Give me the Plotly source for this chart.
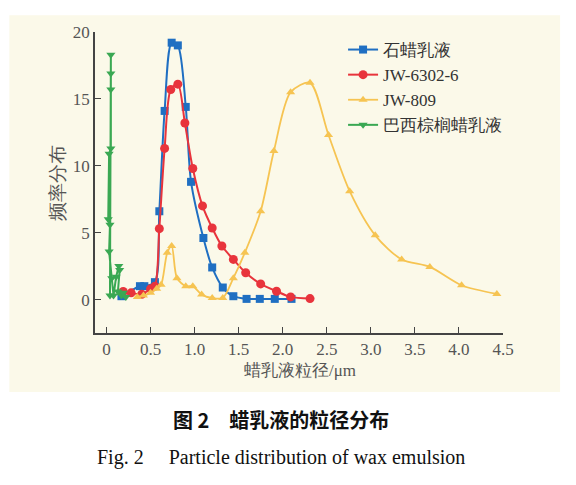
import plotly.graph_objects as go

# 石蜡乳液
x_paraffin = [0.17, 0.38, 0.43, 0.55, 0.60, 0.66, 0.74, 0.81, 0.90, 0.96,
              1.10, 1.20, 1.32, 1.44, 1.59, 1.74, 1.91, 2.10]
y_paraffin = [0.25, 1.0, 1.0, 1.3, 6.6, 14.1, 19.2, 19.0, 14.4, 8.8,
              4.6, 2.4, 0.9, 0.25, 0.05, 0.05, 0.05, 0.05]

# JW-6302-6
x_jw6302 = [0.19, 0.28, 0.40, 0.50, 0.55, 0.60, 0.66, 0.73, 0.81, 0.89, 0.98,
            1.09, 1.20, 1.31, 1.44, 1.58, 1.75, 1.93, 2.09, 2.31]
y_jw6302 = [0.6, 0.5, 0.4, 0.8, 1.0, 5.3, 11.3, 15.7, 16.1, 13.2, 9.8,
            7.0, 5.35, 4.0, 3.0, 2.0, 1.17, 0.62, 0.2, 0.07]

# JW-809
x_jw809 = [0.35, 0.42, 0.50, 0.57, 0.62, 0.69, 0.74, 0.80, 0.90, 0.98, 1.08,
           1.20, 1.32, 1.44, 1.57, 1.75, 1.90, 2.09, 2.31, 2.52, 2.76, 3.05,
           3.35, 3.67, 4.03, 4.43]
y_jw809 = [0.2, 0.3, 0.5, 0.8, 1.1, 3.5, 4.0, 1.6, 1.0, 1.0, 0.37,
           0.12, 0.12, 1.6, 3.5, 6.6, 11.1, 15.5, 16.2, 12.3, 8.1, 4.8,
           3.0, 2.44, 1.07, 0.42]

# 巴西棕榈蜡乳液
x_carnauba = [0.04, 0.05, 0.05, 0.05, 0.05, 0.03, 0.02, 0.04, 0.03, 0.06,
              0.08, 0.11, 0.14, 0.15, 0.13, 0.17, 0.19, 0.22]
y_carnauba = [0.3, 18.3, 16.9, 15.7, 11.3, 10.9, 6.0, 5.6, 3.6, 1.6,
              0.3, 1.7, 2.5, 2.2, 0.6, 0.3, 0.5, 0.2]

x_ticks = [0, 0.5, 1.0, 1.5, 2.0, 2.5, 3.0, 3.5, 4.0, 4.5]
x_tick_labels = ["0", "0.5", "1.0", "1.5", "2.0", "2.5", "3.0", "3.5", "4.0", "4.5"]
y_ticks = [0, 5, 10, 15, 20]

serif = "Liberation Serif"

fig = go.Figure()
fig.add_trace(go.Scatter(x=x_paraffin, y=y_paraffin, name="石蜡乳液",
                         mode="lines+markers", line=dict(color="#1f6fc2", width=2, shape="spline", smoothing=0.8),
                         marker=dict(symbol="square", size=8, color="#1f6fc2")))
fig.add_trace(go.Scatter(x=x_jw6302, y=y_jw6302, name="JW-6302-6",
                         mode="lines+markers", line=dict(color="#e8343c", width=2, shape="spline", smoothing=0.8),
                         marker=dict(symbol="circle", size=9, color="#e8343c")))
fig.add_trace(go.Scatter(x=x_jw809, y=y_jw809, name="JW-809",
                         mode="lines+markers", line=dict(color="#f6c452", width=1.8, shape="spline", smoothing=0.8),
                         marker=dict(symbol="triangle-up", size=8, color="#f6c452")))
fig.add_trace(go.Scatter(x=x_carnauba, y=y_carnauba, name="巴西棕榈蜡乳液",
                         mode="lines+markers", line=dict(color="#3aa853", width=2),
                         marker=dict(symbol="triangle-down", size=8, color="#3aa853")))

axis_style = dict(showline=True, linecolor="#444", linewidth=1.5, ticks="inside",
                  ticklen=6, tickcolor="#444", showgrid=False, zeroline=False,
                  tickfont=dict(family=serif, size=17, color="#555"))
fig.update_xaxes(range=[-0.13, 4.5], tickvals=x_ticks, ticktext=x_tick_labels, **axis_style)
fig.update_yaxes(range=[-2.5, 20], tickvals=y_ticks, **axis_style)

# cream paper region behind the chart (caption area stays white)
fig.add_shape(type="rect", xref="paper", yref="paper", x0=-0.21, x1=1.14,
              y0=-0.196, y1=1.056, fillcolor="#fbf9e9", line_width=0, layer="below")

fig.add_annotation(text="频率分布", xref="paper", yref="paper", x=-0.093, y=0.5,
                   xanchor="center", yanchor="middle", textangle=-90, showarrow=False,
                   font=dict(family=serif, size=19, color="#555"))
fig.add_annotation(text="蜡乳液粒径/μm", xref="paper", yref="paper", x=0.502, y=-0.123,
                   xanchor="center", yanchor="middle", showarrow=False,
                   font=dict(family=serif, size=17, color="#555"))
fig.add_annotation(text="<b>图 2　蜡乳液的粒径分布</b>", xref="paper", yref="paper",
                   x=0.455, y=-0.289, xanchor="center", yanchor="middle", showarrow=False,
                   font=dict(family="Noto Sans CJK SC", size=20, color="#111"))
fig.add_annotation(text="Fig. 2&nbsp;&nbsp;&nbsp;&nbsp; Particle distribution of wax emulsion",
                   xref="paper", yref="paper", x=0.455, y=-0.415,
                   xanchor="center", yanchor="middle", showarrow=False,
                   font=dict(family=serif, size=20, color="#111"))

# page body has an 8px margin, so the figure is 16px smaller than the window
fig.update_layout(
    width=560, height=469,
    margin=dict(l=87, r=65, t=24, b=144),
    paper_bgcolor="white", plot_bgcolor="rgba(0,0,0,0)",
    showlegend=True,
    legend=dict(x=0.608, y=1.0, xanchor="left", yanchor="top", bgcolor="rgba(0,0,0,0)",
                font=dict(family=serif, size=17, color="#333")),
)

fig.write_html("out.html")
